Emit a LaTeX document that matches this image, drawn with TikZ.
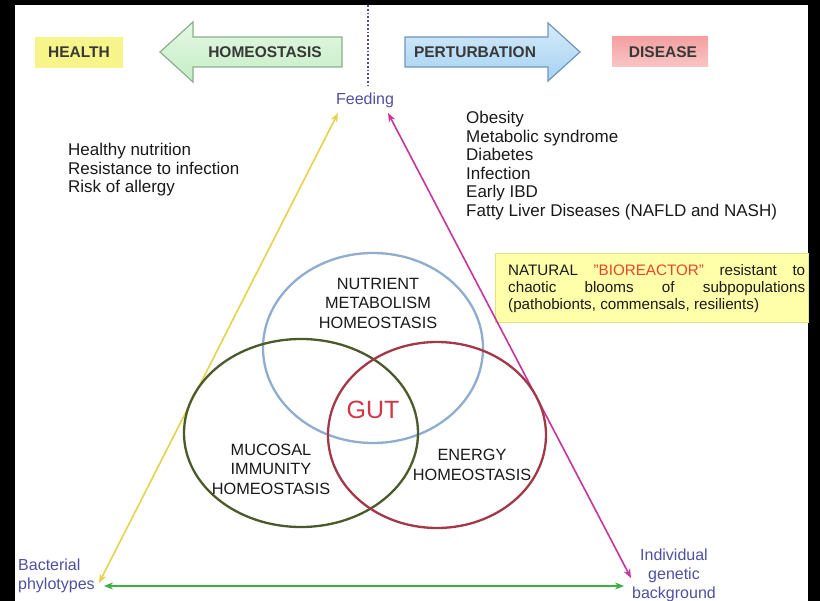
\documentclass[tikz,border=0pt]{standalone}
\usepackage{fontspec}
\setmainfont{Liberation Sans}
\usetikzlibrary{arrows.meta}
\definecolor{hlthyel}{HTML}{F7F58A}
\definecolor{disred}{HTML}{F4A0A0}
\definecolor{homgreen}{HTML}{C4EEC4}
\definecolor{homedge}{HTML}{8CAE8C}
\definecolor{perblue}{HTML}{A4D2F2}
\definecolor{peredge}{HTML}{7095BD}
\definecolor{feedblue}{HTML}{5050A2}
\definecolor{nutblue}{HTML}{8FADCF}
\definecolor{mucolive}{HTML}{4B5A2A}
\definecolor{enred}{HTML}{A23848}
\definecolor{gutred}{HTML}{D23646}
\definecolor{yline}{HTML}{E8D24A}
\definecolor{mline}{HTML}{C8359A}
\definecolor{gline}{HTML}{3CB043}
\definecolor{bioyel}{HTML}{FFFFAA}
\definecolor{bioedge}{HTML}{E2E27E}
\definecolor{bioorange}{HTML}{E8452A}
\definecolor{txt}{HTML}{1A1A1A}
\tikzset{
  lbl/.style={font=\fontsize{17pt}{18.6pt}\selectfont, text=txt, inner sep=0pt, align=left},
  hdr/.style={font=\fontsize{15.5pt}{18pt}\selectfont\bfseries, text=black!78, inner sep=0pt},
  circlbl/.style={font=\fontsize{16.3pt}{19.5pt}\selectfont, text=txt, inner sep=0pt, align=center},
  vertex/.style={font=\fontsize{16pt}{19pt}\selectfont, text=feedblue, inner sep=0pt},
  ring/.style={line width=2.3pt},
  tri/.style={line width=1.6pt, {Stealth[length=9pt,width=7pt]}-{Stealth[length=9pt,width=7pt]}}
}
\begin{document}
\begin{tikzpicture}[x=1pt,y=-1pt]
\useasboundingbox (0,0) rectangle (820,601);
\fill[black] (0,0) rectangle (820,601);
\fill[white] (15,5) rectangle (808,601);

% header
\fill[hlthyel] (35,37) rectangle (123,68);
\node[hdr] (health) at (79,52.5) {HEALTH};
\shade[top color=homgreen!45, bottom color=homgreen, draw=homedge, line width=1.2pt]
  (160,52) -- (193,22) -- (193,37) -- (342,37) -- (342,67) -- (193,67) -- (193,82) -- cycle;
\node[hdr] (homeo) at (265,52.5) {HOMEOSTASIS};
\draw[feedblue, line width=1.8pt, dotted] (368,5) -- (368,86);
\shade[top color=perblue!45, bottom color=perblue, draw=peredge, line width=1.2pt]
  (405,37) -- (548,37) -- (548,23) -- (580,52) -- (548,81) -- (548,67) -- (405,67) -- cycle;
\node[hdr] (pert) at (475,52.5) {PERTURBATION};
\shade[top color=disred, bottom color=disred!60] (612,37) rectangle (708,67);
\node[hdr] (disease) at (663,52.5) {DISEASE};

% text blocks
\node[lbl, anchor=north west] (healthy) at (68,143)
  {Healthy nutrition\\Resistance to infection\\Risk of allergy};
\node[lbl, anchor=north west] (diseases) at (466,111)
  {Obesity\\Metabolic syndrome\\Diabetes\\Infection\\Early IBD\\Fatty Liver Diseases (NAFLD and NASH)};

% bioreactor box
\fill[bioyel, draw=bioedge, line width=0.8pt] (495,253) rectangle (808,322);
\node[font=\fontsize{15.2pt}{17.2pt}\selectfont, text=txt, inner sep=0pt, align=left, anchor=north west] (bio) at (508,264)
  {\makebox[297pt][s]{NATURAL \textcolor{bioorange}{"BIOREACTOR"} resistant to}\\
   \makebox[297pt][s]{chaotic blooms of subpopulations}\\
   (pathobionts, commensals, resilients)};

% vertices
\node[vertex] (feed) at (365,100) {Feeding};
\node[vertex, align=left, anchor=west] (bact) at (18,576) {Bacterial\\phylotypes};
\node[vertex, align=center] (indiv) at (674,575) {Individual\\genetic\\background};

\coordinate (yTop) at (338,113);
\coordinate (yBot) at (99,583);
\coordinate (mTop) at (388,113);
\coordinate (mBot) at (631,578);
\coordinate (gL) at (104,586);
\coordinate (gR) at (624,586);
\draw[tri, yline] (yBot) -- (yTop);
\draw[tri, mline] (mTop) -- (mBot);
\draw[tri, gline, line width=2.2pt] (gL) -- (gR);

% venn circles
\draw[ring, nutblue] (373,348) ellipse [x radius=110, y radius=95];
\draw[ring, mucolive] (301,433) ellipse [x radius=117, y radius=94];
\draw[ring, enred] (437,435) ellipse [x radius=109, y radius=93];

\node[circlbl] (nut) at (378,303) {NUTRIENT\\METABOLISM\\HOMEOSTASIS};
\node[font=\fontsize{25pt}{28pt}\selectfont, text=gutred, inner sep=0pt] (gut) at (373,410) {GUT};
\node[circlbl] (muc) at (271,469) {MUCOSAL\\IMMUNITY\\HOMEOSTASIS};
\node[circlbl] (ener) at (472,465) {ENERGY\\HOMEOSTASIS};
\end{tikzpicture}
\end{document}
